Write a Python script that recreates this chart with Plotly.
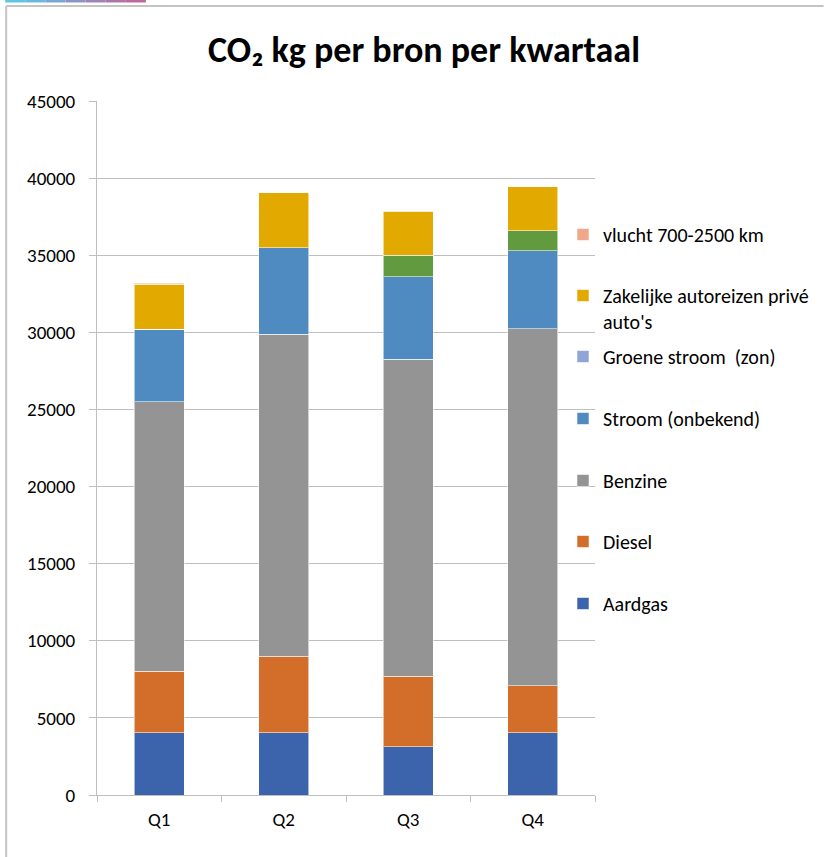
import plotly.graph_objects as go

categories = ["Q1", "Q2", "Q3", "Q4"]
aardgas = [4030, 4030, 3140, 4030]
diesel = [4010, 4980, 4570, 3060]
benzine = [17450, 20860, 20540, 23150]
stroom = [4720, 5600, 5365, 5065]
groene_stroom = [0, 0, 0, 0]
overig_groen = [0, 0, 1385, 1275]
zakelijk = [2910, 3575, 2860, 2860]
vlucht = [70, 0, 0, 0]
y_ticks = [0, 5000, 10000, 15000, 20000, 25000, 30000, 35000, 40000, 45000]
y_ticktext = [str(v) for v in y_ticks]

FONT = "Carlito, Lato, sans-serif"

# name, values, colour, legend id (None = hidden)
series = [
    ("Aardgas", aardgas, "#3C64AD", "legend7"),
    ("Diesel", diesel, "#D26E2A", "legend6"),
    ("Benzine", benzine, "#949494", "legend5"),
    ("Stroom (onbekend)", stroom, "#4F8BC0", "legend4"),
    ("Groene stroom  (zon)", groene_stroom, "#8FA5D6", "legend3"),
    ("Overig", overig_groen, "#629B3F", None),
    ("Zakelijke autoreizen privé<br>auto's", zakelijk, "#E2AA00", "legend2"),
    ("vlucht 700-2500 km", vlucht, "#F1A78A", "legend"),
]
# vertical centre (px) of each legend entry's first line
legend_centres = {"legend": 236, "legend2": 297, "legend3": 358, "legend4": 420,
                  "legend5": 482, "legend6": 543, "legend7": 605}

fig = go.Figure()
for name, vals, color, leg in series:
    fig.add_trace(go.Bar(
        x=categories, y=vals, name=name,
        legend=leg if leg else "legend", showlegend=leg is not None,
        marker=dict(color=color, line=dict(color="rgba(255,255,255,0.55)", width=1)),
    ))

W, H = 825, 857
L, R, T, B = 97, 596, 101, 795

def px(x):
    return (x - L) / (R - L)

def py(y):
    return (B - y) / (B - T)

shapes = [
    dict(type="line", xref="paper", yref="paper", x0=px(6), x1=px(825), y0=py(6), y1=py(6),
         line=dict(color="#C4C4C4", width=2)),
    dict(type="line", xref="paper", yref="paper", x0=px(6), x1=px(6), y0=py(6), y1=py(857),
         line=dict(color="#C4C4C4", width=2)),
]
grad = ["#5EC6E2", "#6AB8DE", "#7BA6D4", "#8C94C6", "#9C84B6", "#AC76A8", "#BC6A9C"]
seg = (146 - 5) / len(grad)
for i, c in enumerate(grad):
    shapes.append(dict(type="rect", xref="paper", yref="paper",
                       x0=px(5 + i * seg), x1=px(5 + (i + 1) * seg), y0=py(0), y1=py(2.5),
                       fillcolor=c, line=dict(width=0)))

legends = {}
for key, cy in legend_centres.items():
    legends[key] = dict(x=px(563), xanchor="left", y=py(cy - 21), yanchor="top",
                        valign="top", bgcolor="rgba(0,0,0,0)",
                        font=dict(family=FONT, size=20, color="#000000"))

fig.update_layout(
    width=W, height=H,
    margin=dict(l=L, r=W - R, t=T, b=H - B),
    barmode="stack", bargap=0.6,
    plot_bgcolor="white", paper_bgcolor="white",
    font=dict(family=FONT, size=19, color="#000000"),
    title=dict(text="CO₂ kg per bron per kwartaal", font=dict(family=FONT, size=36, color="#000000", weight="bold"),
               x=424 / W, xanchor="center", y=1 - 49 / H, yanchor="middle", xref="container", yref="container"),
    xaxis=dict(showline=True, linecolor="#BFBFBF", linewidth=1, ticks="outside", tickson="boundaries",
               ticklen=6, tickcolor="#BFBFBF", showgrid=False, ticklabelstandoff=7,
               tickfont=dict(family=FONT, size=19, color="#000000")),
    yaxis=dict(range=[0, 45000], tickvals=y_ticks, ticktext=y_ticktext, showline=True, linecolor="#BFBFBF",
               linewidth=1, ticks="outside", ticklen=7, tickcolor="#BFBFBF", showgrid=True, gridcolor="#BFBFBF",
               gridwidth=1, zeroline=False, ticklabelstandoff=10,
               tickfont=dict(family=FONT, size=19, color="#000000")),
    shapes=shapes,
    **legends,
)

fig.write_html("out.html", config={"displayModeBar": False},
               post_script="document.body.style.margin='0';document.body.style.padding='0';")
